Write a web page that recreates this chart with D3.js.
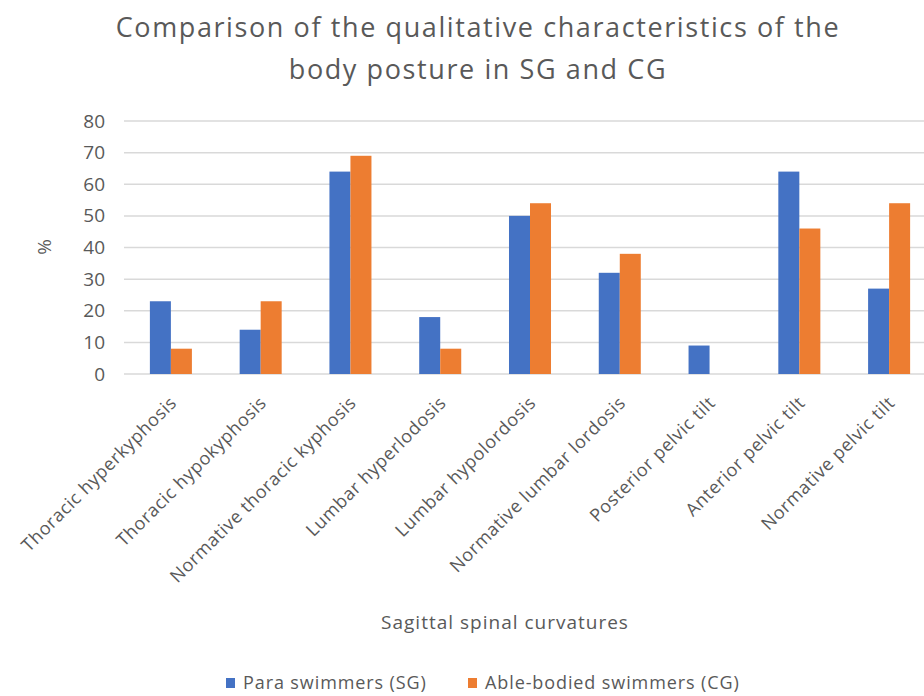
<!DOCTYPE html>
<html>
<head>
<meta charset="utf-8">
<script src="https://cdn.jsdelivr.net/npm/d3@7"></script>
<style>
  html, body { margin: 0; padding: 0; background: #fff; }
  svg { display: block; font-family: "Open Sans", "Noto Sans", sans-serif; }
</style>
</head>
<body>
<svg id="chart" width="924" height="696"></svg>
<script>
const categories = [
  "Thoracic hyperkyphosis",
  "Thoracic hypokyphosis",
  "Normative thoracic kyphosis",
  "Lumbar hyperlodosis",
  "Lumbar hypolordosis",
  "Normative lumbar lordosis",
  "Posterior pelvic tilt",
  "Anterior pelvic tilt",
  "Normative pelvic tilt"
];
const seriesNames = ["Para swimmers (SG)", "Able-bodied swimmers (CG)"];
const paraValues = [23, 14, 64, 18, 50, 32, 9, 64, 27];
const ableValues = [8, 23, 69, 8, 54, 38, 0, 46, 54];
const yTicks = [0, 10, 20, 30, 40, 50, 60, 70, 80];
const colors = ["#4472C4", "#ED7D31"];
const titleLines = ["Comparison of the qualitative characteristics of the", "body posture in SG and CG"];

const svg = d3.select("#chart");
const textColor = "#595959";

const y = d3.scaleLinear().domain([0, 80]).range([374, 121]);
const x0 = d3.scaleBand().domain(categories).range([126, 934]).paddingInner(0.532).paddingOuter(0.266);
const x1 = d3.scaleBand().domain(seriesNames).range([0, x0.bandwidth()]);

// Title
svg.append("g").selectAll("text").data(titleLines).join("text")
  .attr("x", 478).attr("y", (d, i) => 37 + i * 42)
  .attr("text-anchor", "middle")
  .attr("font-size", 27).attr("letter-spacing", 1.6).attr("fill", textColor)
  .text(d => d);

// Gridlines
svg.append("g").selectAll("line").data(yTicks).join("line")
  .attr("x1", 124).attr("x2", 924)
  .attr("y1", d => y(d)).attr("y2", d => y(d))
  .attr("stroke", "#d9d9d9").attr("stroke-width", 1.5);

// Y axis labels
const yAxis = d3.axisLeft(y).tickValues(yTicks).tickSize(0).tickPadding(0);
const yg = svg.append("g").attr("transform", "translate(105,0)").call(yAxis);
yg.select(".domain").remove();
yg.selectAll("text").attr("font-size", 19).attr("fill", textColor)
  .attr("font-family", "'Open Sans', sans-serif");

// Y title
svg.append("text")
  .attr("transform", "translate(51,247) rotate(-90)")
  .attr("text-anchor", "middle").attr("font-size", 19).attr("fill", textColor)
  .text("%");

// Bars
const data = categories.map((c, i) => ({ cat: c, vals: [paraValues[i], ableValues[i]] }));
const groups = svg.append("g").selectAll("g").data(data).join("g")
  .attr("transform", d => `translate(${x0(d.cat)},0)`);
groups.selectAll("rect").data(d => d.vals.map((v, j) => ({ v, s: seriesNames[j], j })))
  .join("rect")
  .attr("x", d => x1(d.s))
  .attr("width", x1.bandwidth())
  .attr("y", d => y(d.v))
  .attr("height", d => y(0) - y(d.v))
  .attr("fill", d => colors[d.j]);

// X axis labels
const xAxis = d3.axisBottom(x0).tickSize(0).tickPadding(0);
const xg = svg.append("g").attr("transform", "translate(0,395)").call(xAxis);
xg.select(".domain").remove();
xg.selectAll("text")
  .attr("font-size", 18).attr("letter-spacing", 0.6).attr("fill", textColor)
  .attr("font-family", "'Open Sans', sans-serif")
  .attr("text-anchor", "end")
  .attr("dy", "0.7em")
  .attr("transform", "translate(-2,0) rotate(-45)");

// X title
svg.append("text")
  .attr("x", 505).attr("y", 629)
  .attr("text-anchor", "middle").attr("font-size", 19).attr("letter-spacing", 1).attr("fill", textColor)
  .text("Sagittal spinal curvatures");

// Legend
const legendX = [226, 468];
const lg = svg.append("g").selectAll("g").data(seriesNames).join("g")
  .attr("transform", (d, i) => `translate(${legendX[i]},678)`);
lg.append("rect").attr("width", 9).attr("height", 10).attr("fill", (d, i) => colors[i]);
lg.append("text").attr("x", 17).attr("y", 11)
  .attr("font-size", 18).attr("letter-spacing", 0.9).attr("fill", textColor).text(d => d);
</script>
</body>
</html>
